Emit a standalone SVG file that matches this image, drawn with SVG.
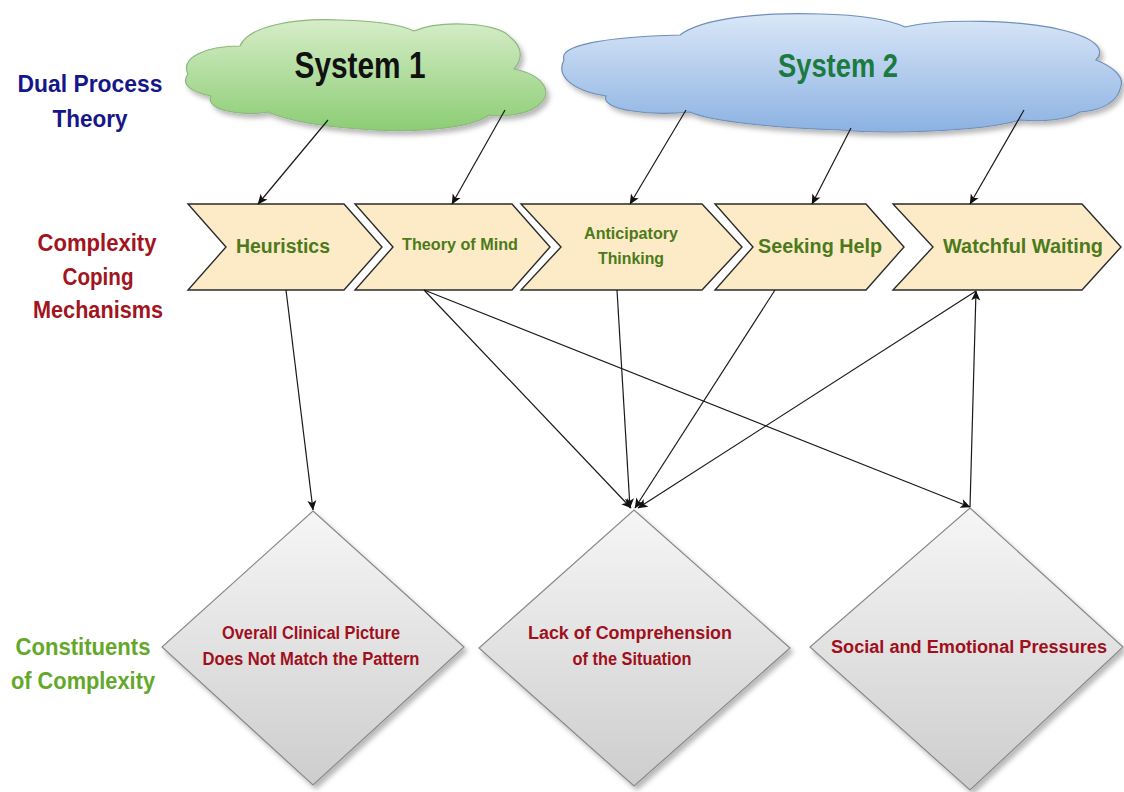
<svg xmlns="http://www.w3.org/2000/svg" width="1124" height="792" viewBox="0 0 1124 792">
  <defs>
    <linearGradient id="gGreen" x1="0" y1="0" x2="0" y2="1">
      <stop offset="0" stop-color="#d6edc8"/>
      <stop offset="1" stop-color="#8ccd74"/>
    </linearGradient>
    <linearGradient id="gBlue" x1="0" y1="0" x2="0" y2="1">
      <stop offset="0" stop-color="#dae7f8"/>
      <stop offset="1" stop-color="#8cb2e2"/>
    </linearGradient>
    <linearGradient id="gGray" x1="0" y1="0" x2="0" y2="1">
      <stop offset="0" stop-color="#f6f6f6"/>
      <stop offset="1" stop-color="#cdcdcd"/>
    </linearGradient>
    <filter id="shadow" x="-10%" y="-10%" width="130%" height="140%">
      <feDropShadow dx="3" dy="4" stdDeviation="2.5" flood-color="#000" flood-opacity="0.28"/>
    </filter>
    <marker id="arrow" viewBox="0 0 10 10" refX="9.5" refY="5" markerWidth="12" markerHeight="10" markerUnits="userSpaceOnUse" orient="auto">
      <path d="M0,0.5 L10,5 L0,9.5 L2.5,5 Z" fill="#111"/>
    </marker>
    <style>
      text { font-family: "Liberation Sans Narrow", "Liberation Sans", Arial, sans-serif; font-weight: bold; text-anchor: middle; }
      .lane-blue { fill: #16168a; font-size: 24px; }
      .lane-red { fill: #a11420; font-size: 23px; }
      .lane-green { fill: #64a82a; font-size: 23px; }
      .chev { fill: #fcebc6; stroke: #2b2b2b; stroke-width: 1.4; }
      .chev-text { fill: #4c7a1b; }
      .diamond { fill: url(#gGray); stroke: #8a8a8a; stroke-width: 1.2; filter: url(#shadow); }
      .diamond-text { fill: #a0101c; font-size: 18px; }
      .conn { stroke: #1a1a1a; stroke-width: 1.2; fill: none; marker-end: url(#arrow); }
    </style>
  </defs>

  <rect width="1124" height="792" fill="#ffffff"/>

  <!-- Row labels -->
  <g id="label-dual-process">
    <text class="lane-blue" x="90" y="92" textLength="145" lengthAdjust="spacingAndGlyphs">Dual Process</text>
    <text class="lane-blue" x="90" y="127" textLength="75" lengthAdjust="spacingAndGlyphs">Theory</text>
  </g>
  <g id="label-coping">
    <text class="lane-red" x="97" y="251" textLength="119" lengthAdjust="spacingAndGlyphs">Complexity</text>
    <text class="lane-red" x="98" y="285" textLength="71" lengthAdjust="spacingAndGlyphs">Coping</text>
    <text class="lane-red" x="98" y="318" textLength="130" lengthAdjust="spacingAndGlyphs">Mechanisms</text>
  </g>
  <g id="label-constituents">
    <text class="lane-green" x="83" y="655" textLength="135" lengthAdjust="spacingAndGlyphs">Constituents</text>
    <text class="lane-green" x="83" y="689" textLength="144" lengthAdjust="spacingAndGlyphs">of Complexity</text>
  </g>

  <!-- Clouds -->
  <g id="system1">
    <path filter="url(#shadow)" fill="url(#gGreen)" stroke="#8fb67f" stroke-width="1.2"
      d="M 188,74 C 180,58 205,46 240,46 C 248,26 294,18 340,20 C 378,21 402,25 414,31 C 440,20 498,22 510,37 C 524,48 522,60 514,69 C 544,75 556,94 536,107 C 525,115 502,117 489,115 C 470,130 402,133 360,129 C 320,126 286,120 268,112 C 240,117 204,109 211,96 C 192,92 180,85 188,74 Z"/>
    <text x="360" y="78" font-size="36" fill="#111" textLength="131" lengthAdjust="spacingAndGlyphs">System 1</text>
  </g>
  <g id="system2">
    <path filter="url(#shadow)" fill="url(#gBlue)" stroke="#6f8fb8" stroke-width="1.2"
      d="M 564,60 C 558,45 605,37 680,35 C 702,18 762,12 820,14 C 862,15 890,20 905,27 C 942,18 1022,20 1062,30 C 1096,38 1106,50 1096,60 C 1114,67 1124,77 1121,86 C 1118,101 1104,110 1080,112 C 1068,120 1042,122 1020,120 C 980,132 882,134 840,130 C 780,128 712,122 690,112 C 650,116 600,110 606,96 C 570,90 556,75 564,60 Z"/>
    <text x="838" y="77" font-size="33" fill="#1b7a3f" textLength="120" lengthAdjust="spacingAndGlyphs">System 2</text>
  </g>

  <!-- Coping mechanisms (chevrons) -->
  <g id="heuristics">
    <polygon class="chev" points="188,204 344,204 382,247 344,290 188,290 226,247"/>
    <text class="chev-text" x="283" y="253" font-size="20" textLength="94" lengthAdjust="spacingAndGlyphs">Heuristics</text>
  </g>
  <g id="theory-of-mind">
    <polygon class="chev" points="355,204 512,204 550,247 512,290 355,290 393,247"/>
    <text class="chev-text" x="460" y="250" font-size="17" textLength="116" lengthAdjust="spacingAndGlyphs">Theory of Mind</text>
  </g>
  <g id="anticipatory-thinking">
    <polygon class="chev" points="521,204 702,204 742,247 702,290 521,290 561,247"/>
    <text class="chev-text" x="631" y="239" font-size="17" textLength="94" lengthAdjust="spacingAndGlyphs">Anticipatory</text>
    <text class="chev-text" x="631" y="264" font-size="17" textLength="66" lengthAdjust="spacingAndGlyphs">Thinking</text>
  </g>
  <g id="seeking-help">
    <polygon class="chev" points="715,204 866,204 904,247 866,290 715,290 753,247"/>
    <text class="chev-text" x="820" y="253" font-size="21" textLength="124" lengthAdjust="spacingAndGlyphs">Seeking Help</text>
  </g>
  <g id="watchful-waiting">
    <polygon class="chev" points="893,204 1082,204 1121,247 1082,290 893,290 933,247"/>
    <text class="chev-text" x="1023" y="253" font-size="21" textLength="160" lengthAdjust="spacingAndGlyphs">Watchful Waiting</text>
  </g>

  <!-- Constituents of complexity (diamonds) -->
  <g id="clinical-picture">
    <polygon class="diamond" points="313,511 464,647 313,785 162,647"/>
    <text class="diamond-text" x="311" y="639" textLength="178" lengthAdjust="spacingAndGlyphs">Overall Clinical Picture</text>
    <text class="diamond-text" x="311" y="665" textLength="217" lengthAdjust="spacingAndGlyphs">Does Not Match the Pattern</text>
  </g>
  <g id="lack-of-comprehension">
    <polygon class="diamond" points="634,510 790,648 634,786 479,648"/>
    <text class="diamond-text" x="630" y="639" textLength="204" lengthAdjust="spacingAndGlyphs">Lack of Comprehension</text>
    <text class="diamond-text" x="632" y="665" textLength="119" lengthAdjust="spacingAndGlyphs">of the Situation</text>
  </g>
  <g id="social-emotional">
    <polygon class="diamond" points="970,508 1123,647 970,790 810,647"/>
    <text class="diamond-text" x="969" y="653" textLength="276" lengthAdjust="spacingAndGlyphs">Social and Emotional Pressures</text>
  </g>

  <!-- Connectors -->
  <g id="connectors">
    <line class="conn" x1="328" y1="120" x2="258" y2="204"/>
    <line class="conn" x1="505" y1="110" x2="452" y2="204"/>
    <line class="conn" x1="686" y1="110" x2="630" y2="204"/>
    <line class="conn" x1="851" y1="128" x2="812" y2="204"/>
    <line class="conn" x1="1024" y1="110" x2="970" y2="204"/>

    <line class="conn" x1="286" y1="290" x2="313" y2="510"/>
    <line class="conn" x1="424" y1="290" x2="631" y2="508"/>
    <line class="conn" x1="424" y1="290" x2="970" y2="507"/>
    <line class="conn" x1="617" y1="290" x2="630" y2="508"/>
    <line class="conn" x1="775" y1="290" x2="635" y2="508"/>
    <line class="conn" x1="976" y1="291" x2="638" y2="508"/>
    <line class="conn" x1="970" y1="507" x2="976" y2="291"/>
  </g>
</svg>
